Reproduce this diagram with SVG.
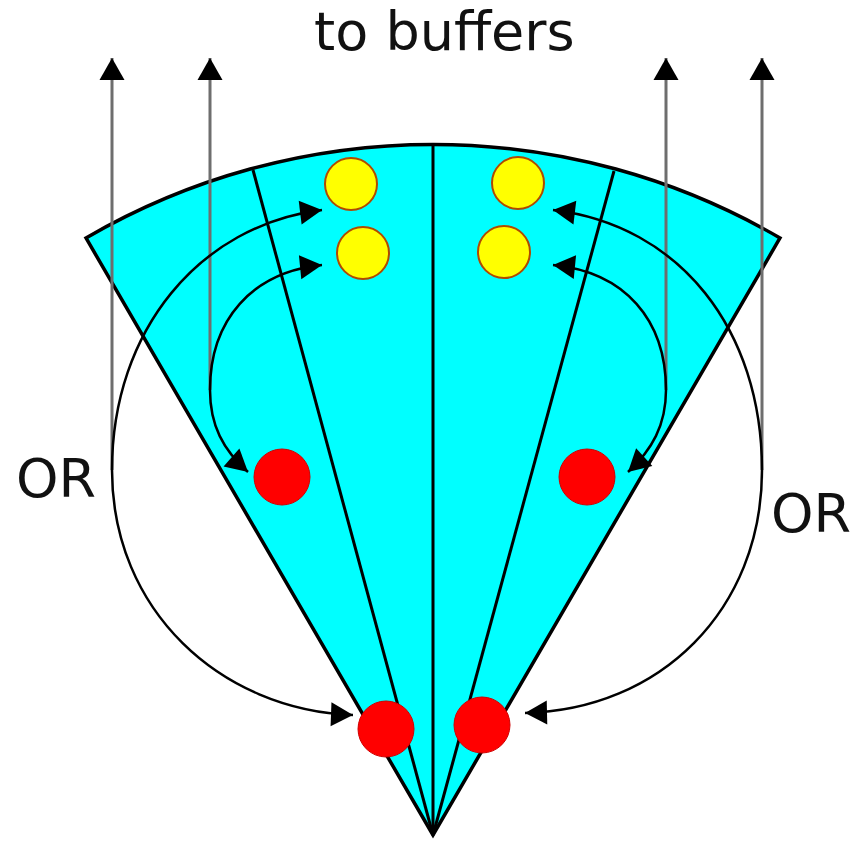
<svg xmlns="http://www.w3.org/2000/svg" width="866" height="843" viewBox="0 0 866 843">
<style>
.wedge{fill:#00ffff;stroke:#000;stroke-width:3.5;stroke-linejoin:miter}
.div{stroke:#000;stroke-width:3;fill:none}
.yel{fill:#ffff00;stroke:#b04a00;stroke-width:2}
.red{fill:#ff0000;stroke:#d00000;stroke-width:1}
.curve{fill:none;stroke:#000;stroke-width:2.5;marker-start:url(#ah);marker-end:url(#ah)}
.up{fill:none;stroke:#6e6e6e;stroke-width:3;marker-end:url(#ahUp)}
.lbl{font-family:"DejaVu Sans","Liberation Sans",sans-serif;font-size:54px;fill:#111}
</style>
<defs>
<marker id="ah" markerUnits="userSpaceOnUse" markerWidth="24" markerHeight="26" refX="22" refY="12" orient="auto-start-reverse" overflow="visible">
<path d="M0,0 L22,12 L0,24 z" fill="#000"/>
</marker>
<marker id="ahUp" markerUnits="userSpaceOnUse" markerWidth="24" markerHeight="26" refX="22" refY="12.5" orient="auto" overflow="visible">
<path d="M0,0 L22,12.5 L0,25 z" fill="#000"/>
</marker>
</defs>
<rect width="866" height="843" fill="#fff"/>
<g id="sector">
<path class="wedge" d="M433,835 L86,238 A690,690 0 0 1 780,238 Z"/>
<line class="div" x1="433" y1="835" x2="253" y2="170"/>
<line class="div" x1="433" y1="835" x2="433" y2="145"/>
<line class="div" x1="433" y1="835" x2="614" y2="171"/>
</g>
<g id="connectors">
<line class="up" x1="112" y1="470" x2="112" y2="58"/>
<line class="up" x1="210" y1="390" x2="210" y2="58"/>
<line class="up" x1="666" y1="390" x2="666" y2="58"/>
<line class="up" x1="762" y1="470" x2="762" y2="58"/>
<path class="curve" d="M322,210 C200,225 112,330 112,470 C112,610 220,710 353,715"/>
<path class="curve" d="M322,265 C252,272 210,320 210,390 C210,425 223,450 248,472"/>
<path class="curve" d="M553,210 C680,225 762,330 762,470 C762,610 660,710 525,713"/>
<path class="curve" d="M553,265 C625,272 666,320 666,390 C666,425 652,450 628,472"/>
</g>
<g id="yellow-left-top"><circle class="yel" cx="351" cy="184" r="26"/></g>
<g id="yellow-left-bottom"><circle class="yel" cx="363" cy="253" r="26"/></g>
<g id="yellow-right-top"><circle class="yel" cx="518" cy="183" r="26"/></g>
<g id="yellow-right-bottom"><circle class="yel" cx="504" cy="252" r="26"/></g>
<g id="red-left-mid"><circle class="red" cx="282" cy="477" r="28"/></g>
<g id="red-right-mid"><circle class="red" cx="587" cy="477" r="28"/></g>
<g id="red-left-bottom"><circle class="red" cx="386" cy="729" r="28"/></g>
<g id="red-right-bottom"><circle class="red" cx="482" cy="725" r="28"/></g>
<g id="labels">
<text class="lbl" x="314" y="50" font-size="55">to buffers</text>
<text class="lbl" x="16" y="497">OR</text>
<text class="lbl" x="771" y="532">OR</text>
</g>
</svg>
